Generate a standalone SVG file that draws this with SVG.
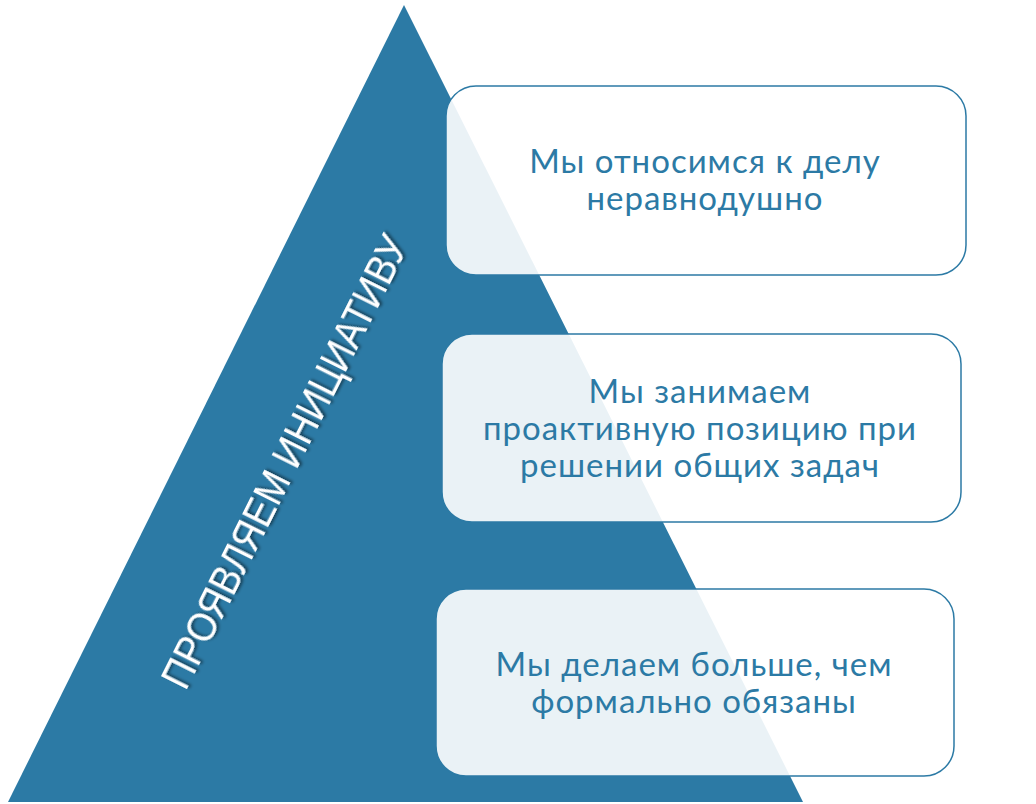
<svg xmlns="http://www.w3.org/2000/svg" width="1036" height="804" viewBox="0 0 1036 804">
<defs>
<style>
.box{fill:#ffffff;fill-opacity:0.9;stroke:#2C7AA5;stroke-width:1.5}
.t{font-family:"Lato","DejaVu Sans",sans-serif;font-size:33px;letter-spacing:1px;fill:#2C7AA5;text-anchor:middle}
.v{font-family:"Liberation Sans",sans-serif;font-size:42px;fill:#fff;text-anchor:middle}
</style>
<filter id="sh"><feDropShadow dx="2" dy="2" stdDeviation="1.5" flood-color="#000" flood-opacity="0.5"/></filter>
</defs>
<rect width="1036" height="804" fill="#fff"/>
<g id="pyramid">
<polygon points="404,5 8,802 803,802" fill="#2C7AA5"/>
<text class="v" transform="translate(285,462) rotate(-63.4)" textLength="500" lengthAdjust="spacingAndGlyphs" filter="url(#sh)" dy="14">ПРОЯВЛЯЕМ ИНИЦИАТИВУ</text>
</g>
<g id="box1">
<rect class="box" x="446" y="86" width="520" height="189" rx="30"/>
<text class="t" x="705" y="173">Мы относимся к делу</text>
<text class="t" x="705" y="210">неравнодушно</text>
</g>
<g id="box2">
<rect class="box" x="442" y="334" width="519" height="188" rx="30"/>
<text class="t" x="700" y="403">Мы занимаем</text>
<text class="t" x="700" y="440">проактивную позицию при</text>
<text class="t" x="700" y="477">решении общих задач</text>
</g>
<g id="box3">
<rect class="box" x="436" y="589" width="518" height="187" rx="30"/>
<text class="t" x="694" y="676">Мы делаем больше, чем</text>
<text class="t" x="694" y="713">формально обязаны</text>
</g>
<g id="connectors"/>
</svg>
